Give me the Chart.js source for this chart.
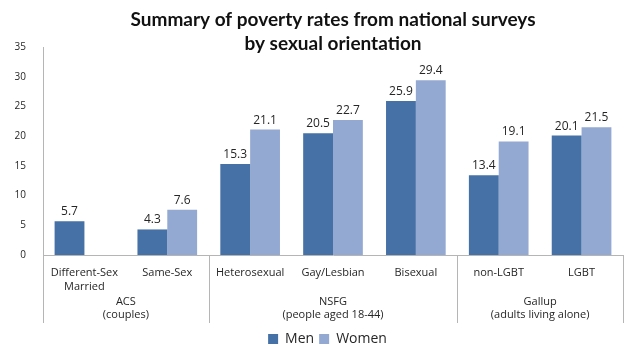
<!DOCTYPE html>
<html>
<head>
<meta charset="utf-8">
<script src="https://cdn.jsdelivr.net/npm/chart.js@4/dist/chart.umd.min.js"></script>
<style>
  body { margin: 0; background: #fff; }
  #wrap { width: 640px; height: 350px; position: relative; }
</style>
</head>
<body>
<div id="wrap"><canvas id="chart"></canvas></div>
<script>
var categories = [['Different-Sex', 'Married'], ['Same-Sex', ''], ['Heterosexual', ''], ['Gay/Lesbian', ''], ['Bisexual', ''], ['non-LGBT', ''], ['LGBT', '']];
var men = [5.7, 4.3, 15.3, 20.5, 25.9, 13.4, 20.1];
var women = [null, 7.6, 21.1, 22.7, 29.4, 19.1, 21.5];
var groupLabels = [['ACS', '(couples)'], ['NSFG', '(people aged 18-44)'], ['Gallup', '(adults living alone)']];
var groupRanges = [[0, 1], [2, 4], [5, 6]];
var titleLines = ['Summary of poverty rates from national surveys', 'by sexual orientation'];

var menColor = '#4571a7';
var womenColor = '#93a9d1';
var axisColor = '#b5b5b5';
var textColor = '#262626';

var extras = {
  id: 'extras',
  afterLayout: function(chart) {
    // legend sits a bit right of centre in the original
    if (chart.legend) { chart.legend.left += 16; chart.legend.right += 16; }
  },
  afterDraw: function(chart) {
    var ctx = chart.ctx;
    var area = chart.chartArea;
    var x = chart.scales.x;
    ctx.save();

    // title
    ctx.fillStyle = '#111';
    ctx.font = 'bold 19px Lato';
    ctx.textAlign = 'center';
    ctx.textBaseline = 'alphabetic';
    var cx = (area.left + area.right) / 2;
    ctx.fillText(titleLines[0], cx, 26);
    ctx.fillText(titleLines[1], cx, 50);

    // value labels
    ctx.font = '12px "Open Sans"';
    ctx.fillStyle = textColor;
    chart.data.datasets.forEach(function(ds, i) {
      chart.getDatasetMeta(i).data.forEach(function(bar, j) {
        if (ds.data[j] == null) return;
        ctx.fillText(ds.data[j].toFixed(1), bar.x, bar.y - 6);
      });
    });

    // group separators and labels
    var half = (x.getPixelForValue(1) - x.getPixelForValue(0)) / 2;
    ctx.strokeStyle = axisColor;
    ctx.lineWidth = 1;
    var edges = [area.left];
    groupRanges.forEach(function(r) { edges.push(x.getPixelForValue(r[1]) + half); });
    edges.forEach(function(px) {
      px = Math.round(px) + 0.5;
      ctx.beginPath();
      ctx.moveTo(px, area.bottom);
      ctx.lineTo(px, 323);
      ctx.stroke();
    });
    ctx.font = '11px "Open Sans"';
    ctx.fillStyle = textColor;
    ctx.textBaseline = 'middle';
    groupRanges.forEach(function(r, k) {
      var gx = (x.getPixelForValue(r[0]) + x.getPixelForValue(r[1])) / 2;
      ctx.fillText(groupLabels[k][0], gx, 302);
      ctx.fillText(groupLabels[k][1], gx, 315);
    });
    ctx.restore();
  }
};

new Chart(document.getElementById('chart'), {
  type: 'bar',
  data: {
    labels: categories,
    datasets: [
      { label: 'Men', data: men, backgroundColor: menColor },
      { label: 'Women', data: women, backgroundColor: womenColor }
    ]
  },
  options: {
    responsive: true,
    maintainAspectRatio: false,
    animation: false,
    layout: { padding: { top: 47, right: 17, left: 0, bottom: -6 } },
    datasets: { bar: { categoryPercentage: 0.72, barPercentage: 1.0 } },
    plugins: {
      title: { display: false },
      tooltip: { enabled: false },
      legend: {
        position: 'bottom',
        labels: {
          boxWidth: 10, boxHeight: 10, padding: 5,
          color: textColor,
          font: { family: '"Open Sans"', size: 14 }
        }
      }
    },
    scales: {
      x: {
        grid: { display: false },
        border: { color: axisColor },
        ticks: { color: textColor, font: { family: '"Open Sans"', size: 11, lineHeight: 1.25 }, padding: 3, maxRotation: 0 },
        afterFit: function(s) { s.height = 72; }
      },
      y: {
        min: 0, max: 35,
        grid: { display: false },
        border: { color: axisColor },
        ticks: { stepSize: 5, color: textColor, font: { family: '"Open Sans"', size: 10 }, padding: 9 },
        afterFit: function(s) { s.width = 43; }
      }
    }
  },
  plugins: [extras]
});
</script>
</body>
</html>
